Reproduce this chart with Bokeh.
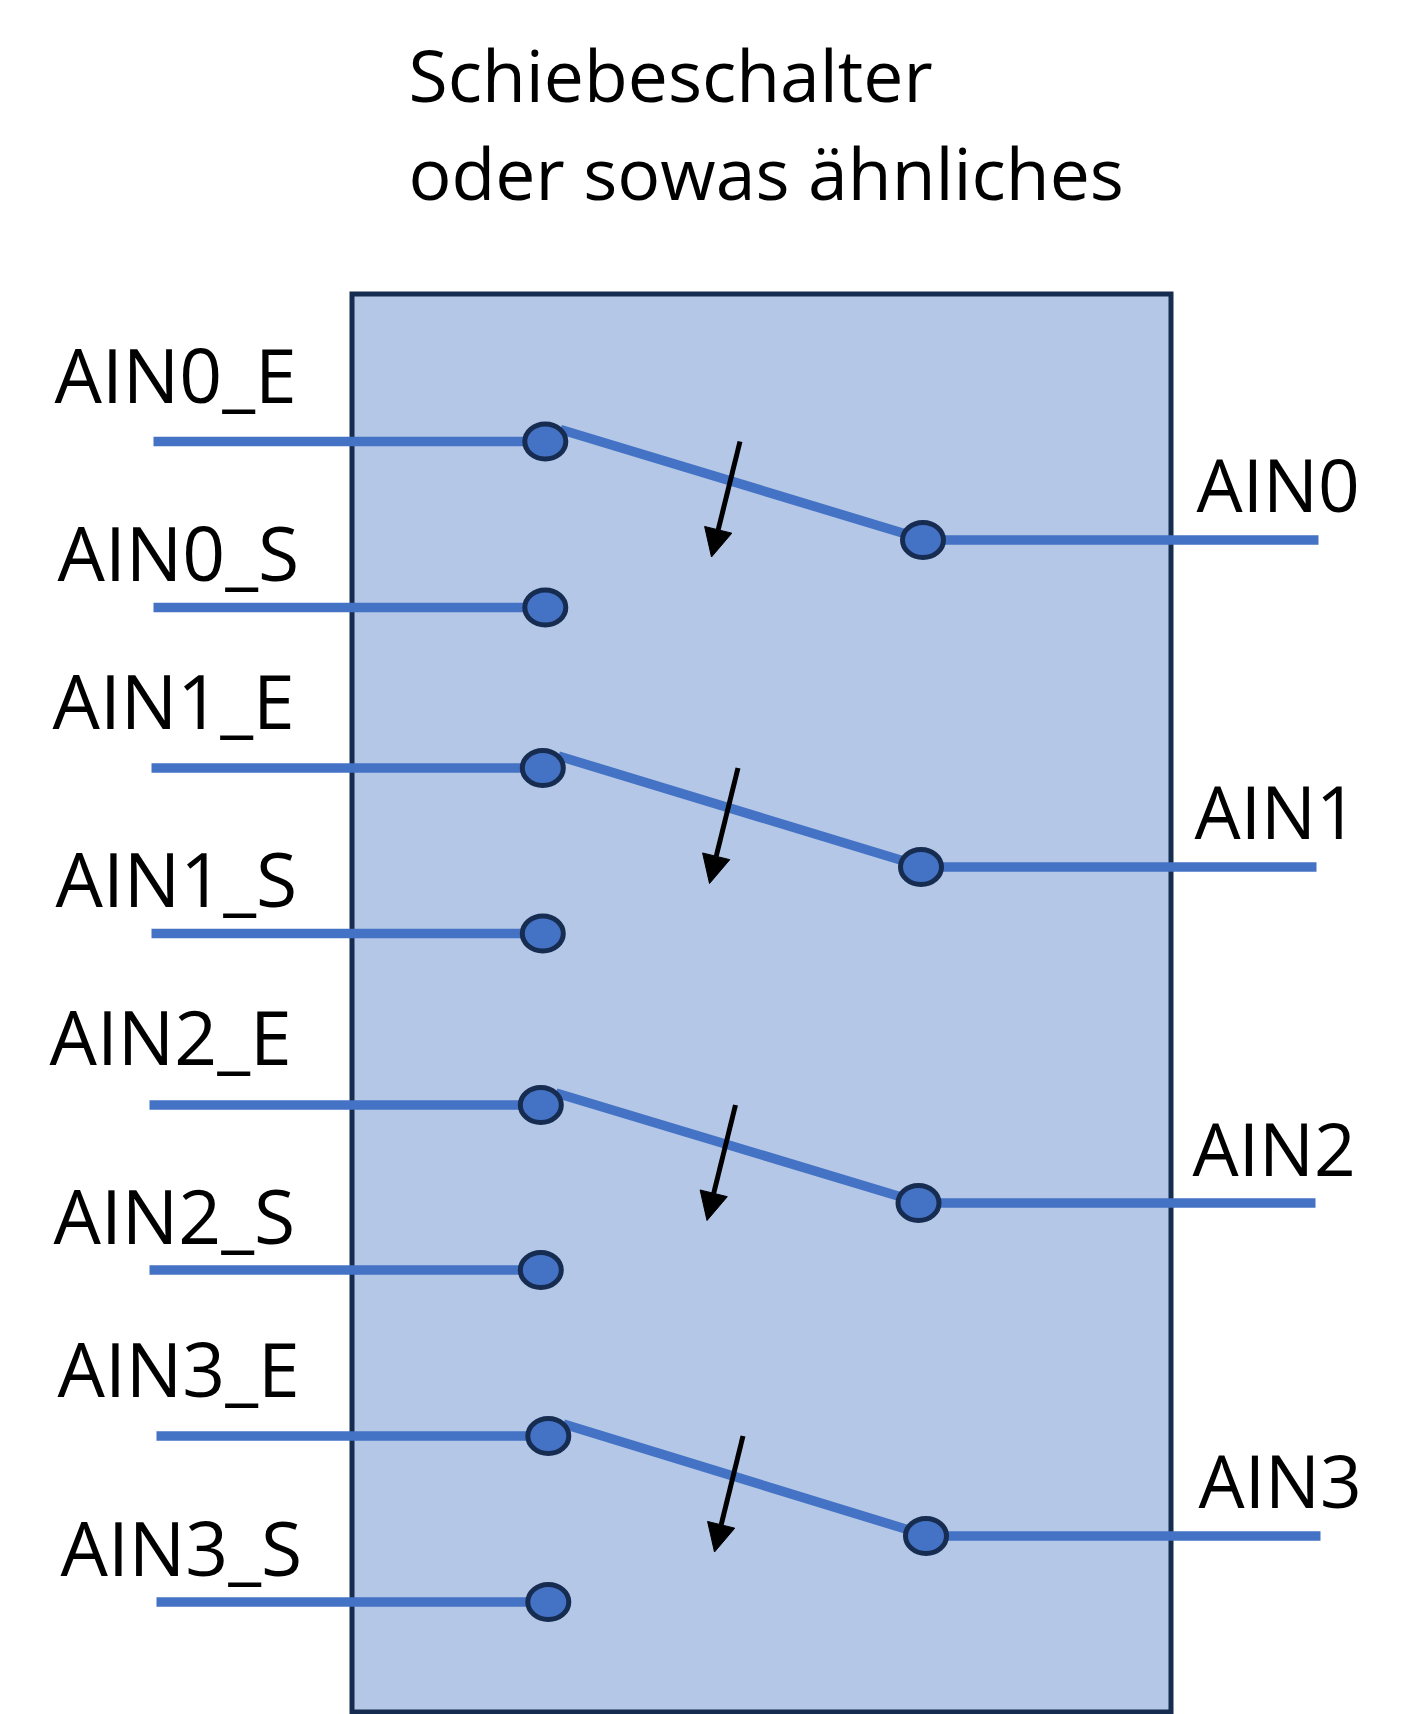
from bokeh.plotting import figure
from bokeh.models import Range1d, Arrow, NormalHead, ColumnDataSource
from bokeh.core.properties import value
from bokeh.embed import file_html
from bokeh.resources import INLINE

FONT = "Open Sans"
title_lines = ["Schiebeschalter", "oder sowas ähnliches"]
title_x = [408, 408]
title_y = [102, 200]

left_labels = ["AIN0_E", "AIN0_S", "AIN1_E", "AIN1_S", "AIN2_E", "AIN2_S", "AIN3_E", "AIN3_S"]
left_label_x = [54, 57, 52, 55, 49, 53, 57, 60]
left_label_y = [401, 579, 727, 905, 1063, 1242, 1395, 1574]
right_labels = ["AIN0", "AIN1", "AIN2", "AIN3"]
right_label_x = [1196, 1194, 1192, 1198]
right_label_y = [510, 837, 1174, 1506]

wire_start = [153, 151, 149, 156]
dot_left_x = [544.8, 542.3, 540.3, 547.8]
dot_right_x = [922.5, 920.5, 918, 925.5]
wire_end = [1318, 1316, 1315, 1320]
row_e = [441, 767.5, 1104.5, 1435.5]
row_s = [607, 933, 1269.5, 1601.5]
row_r = [539.5, 866.5, 1202.5, 1535.5]

arm_x0 = [560, 558, 555.5, 563]
arm_y0 = [429, 755.5, 1092.5, 1423.5]
arm_x1 = [907, 905, 902.5, 910]
arm_y1 = [534, 861, 1197, 1530]
arrow_x0 = [739.5, 737.5, 735, 742.5]
arrow_y0 = [441, 767.5, 1104.5, 1435.5]
arrow_x1 = [711, 709, 706.5, 714]
arrow_y1 = [556.5, 883, 1220, 1551.5]

box_x = [351.5, 1170.5]
box_y = [293.5, 1711.5]

BLUE = "#4472C4"
DARK = "#172C51"

p = figure(width=1411, height=1714, output_backend="svg", toolbar_location=None,
           x_range=Range1d(0, 1411), y_range=Range1d(1714, 0),
           min_border=0, outline_line_color=None, background_fill_color="white",
           border_fill_color="white")
p.axis.visible = False
p.grid.visible = False

p.quad(left=[box_x[0]], right=[box_x[1]], top=[box_y[0]], bottom=[box_y[1]],
       fill_color="#B4C7E7", line_color=DARK, line_width=5, line_join="miter")

p.segment(wire_start, row_e, dot_left_x, row_e, line_color=BLUE, line_width=9.5)
p.segment(wire_start, row_s, dot_left_x, row_s, line_color=BLUE, line_width=9.5)
p.segment(dot_right_x, row_r, wire_end, row_r, line_color=BLUE, line_width=9.5)
p.segment(arm_x0, arm_y0, arm_x1, arm_y1, line_color=BLUE, line_width=9.5)

dots_x = dot_left_x + dot_left_x + dot_right_x
dots_y = row_e + row_s + row_r
p.ellipse(dots_x, dots_y, width=41, height=35, fill_color=BLUE, line_color=DARK, line_width=5)

p.add_layout(Arrow(end=NormalHead(size=28, fill_color="black", line_color="black", line_width=1),
                   line_color="black", line_width=5,
                   source=ColumnDataSource(dict(x0=arrow_x0, y0=arrow_y0, x1=arrow_x1, y1=arrow_y1)),
                   x_start="x0", y_start="y0", x_end="x1", y_end="y1"))

p.text(title_x, title_y, text=title_lines, text_font=value(FONT), text_font_size="71.5px", y_offset=-28.5,
       text_color="black", text_baseline="alphabetic", text_align="left")
p.text(left_label_x, left_label_y, text=left_labels, text_font=value(FONT), text_font_size="75px", y_offset=-28,
       text_color="black", text_baseline="alphabetic", text_align="left")
p.text(right_label_x, right_label_y, text=right_labels, text_font=value(FONT), text_font_size="73px", y_offset=-27.5,
       text_color="black", text_baseline="alphabetic", text_align="left")

open("out.html", "w").write(file_html(p, INLINE))
